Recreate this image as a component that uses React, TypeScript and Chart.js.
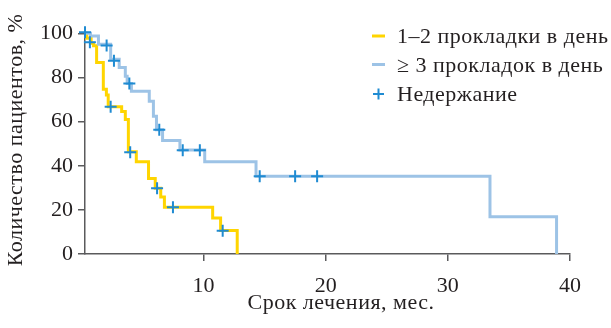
import React, { useEffect, useRef } from "react";
import { Chart, registerables } from "chart.js";

Chart.register(...registerables);

const legendLabels = ["1–2 прокладки в день", "≥ 3 прокладок в день", "Недержание"];
const xTitle = "Срок лечения, мес.";
const yTitle = "Количество пациентов, %";
const xTicks = [10, 20, 30, 40];
const yTicks = [0, 20, 40, 60, 80, 100];

// 1–2 pads/day: event times (months) and survival (%) after each step
const yellowTimes = [0.3, 0.45, 0.8, 1.0, 1.25, 1.8, 2.05, 2.2, 3.3, 3.6, 3.85, 4.5, 5.5, 6.05, 6.5, 6.8, 10.75, 11.4, 12.76];
const yellowValues = [100, 97.8, 95.5, 94.4, 86.8, 74.6, 72, 66.7, 64.6, 61, 46.3, 41.8, 34.2, 29.8, 25.8, 21.2, 16.3, 10.7, 0];

// >=3 pads/day
const blueTimes = [0.3, 0.75, 1.4, 2.4, 3.1, 3.6, 3.75, 4.1, 5.56, 5.9, 6.15, 6.65, 8.07, 10.1, 14.3, 33.45, 38.9];
const blueValues = [100, 98.8, 95, 88.2, 84.5, 80.5, 77.3, 73.8, 69.2, 62.4, 56.3, 51.4, 47.1, 41.8, 35.2, 16.9, 0];

// censored marks (Недержание)
const censorTimes = [0.3, 0.7, 2.07, 2.4, 2.67, 3.93, 4.0, 6.2, 6.38, 7.5, 8.3, 9.7, 11.57, 14.6, 17.5, 19.3];
const censorValues = [100.5, 96, 94.5, 66.7, 87.6, 77.3, 46.1, 29.8, 56.3, 21.2, 47, 47, 10.5, 35.2, 35.2, 35.2];

const YELLOW = "#ffd500";
const BLUE = "#9dc3e6";
const MARK = "#1f8bd2";
const TEXT = "#231f20";
const AXIS = "#5a5a5c";
const FONT = '"Liberation Serif", "Times New Roman", serif';

const toPoints = (xs: number[], ys: number[]) => xs.map((x, i) => ({ x, y: ys[i] }));

const overlay = {
  id: "overlay",
  afterDraw(chart: any) {
    const ctx = chart.ctx as any;
    ctx.save();
    ctx.font = `22px ${FONT}`;
    ctx.letterSpacing = "0.5px";
    ctx.fillStyle = TEXT;
    ctx.textAlign = "left";
    ctx.textBaseline = "alphabetic";
    // legend
    const lx = 372;
    const tx = 397;
    ctx.lineWidth = 3;
    ctx.strokeStyle = YELLOW;
    ctx.beginPath();
    ctx.moveTo(lx, 36);
    ctx.lineTo(lx + 13, 36);
    ctx.stroke();
    ctx.fillText(legendLabels[0], tx, 43);
    ctx.strokeStyle = BLUE;
    ctx.beginPath();
    ctx.moveTo(lx, 64.5);
    ctx.lineTo(lx + 13, 64.5);
    ctx.stroke();
    ctx.fillText(legendLabels[1], tx, 72);
    ctx.strokeStyle = MARK;
    ctx.lineWidth = 2;
    ctx.beginPath();
    ctx.moveTo(lx + 1, 94);
    ctx.lineTo(lx + 12, 94);
    ctx.moveTo(lx + 6.5, 88.5);
    ctx.lineTo(lx + 6.5, 99.5);
    ctx.stroke();
    ctx.fillText(legendLabels[2], tx, 101);
    // x title
    ctx.textAlign = "center";
    ctx.fillText(xTitle, 341, 309);
    // y title
    ctx.translate(22, 140);
    ctx.rotate(-Math.PI / 2);
    ctx.fillText(yTitle, 0, 0);
    ctx.restore();
  },
};

export default function App() {
  const ref = useRef<HTMLCanvasElement>(null);
  useEffect(() => {
    document.body.style.margin = "0";
    const canvas = ref.current!;
    const chart = new Chart(canvas, {
      type: "line",
      data: {
        datasets: [
          {
            label: legendLabels[2],
            data: toPoints(censorTimes, censorValues),
            showLine: false,
            pointStyle: "cross",
            pointRadius: 6,
            pointBorderWidth: 2,
            pointBorderColor: MARK,
            pointBackgroundColor: MARK,
            borderColor: MARK,
            clip: false,
          } as any,
          {
            label: legendLabels[1],
            data: toPoints(blueTimes, blueValues),
            stepped: "before",
            borderColor: BLUE,
            borderWidth: 3,
            pointRadius: 0,
            fill: false,
            clip: false,
          } as any,
          {
            label: legendLabels[0],
            data: toPoints(yellowTimes, yellowValues),
            stepped: "before",
            borderColor: YELLOW,
            borderWidth: 3,
            pointRadius: 0,
            fill: false,
            clip: false,
          } as any,
        ],
      },
      options: {
        animation: false,
        responsive: false,
        layout: { padding: { top: 30, right: 41, left: 0, bottom: 0 } },
        plugins: { legend: { display: false }, tooltip: { enabled: false }, title: { display: false } },
        scales: {
          x: {
            type: "linear",
            min: 0.3,
            max: 40,
            afterBuildTicks: (s: any) => {
              s.ticks = xTicks.map((v) => ({ value: v }));
            },
            afterFit: (s: any) => {
              s.height = 74;
            },
            grid: { drawOnChartArea: false, drawTicks: true, tickLength: 7, color: AXIS, lineWidth: 1.5 },
            border: { display: true, color: AXIS, width: 1.5 },
            ticks: { font: { family: FONT, size: 22 }, color: TEXT, padding: 12, maxRotation: 0, autoSkip: false },
          },
          y: {
            type: "linear",
            min: 0,
            max: 101.5,
            afterBuildTicks: (s: any) => {
              s.ticks = yTicks.map((v) => ({ value: v }));
            },
            afterFit: (s: any) => {
              s.width = 85;
            },
            grid: { drawOnChartArea: false, drawTicks: true, tickLength: 7, color: AXIS, lineWidth: 1.5 },
            border: { display: true, color: AXIS, width: 1.5 },
            ticks: { font: { family: FONT, size: 22 }, color: TEXT, padding: 5, autoSkip: false },
          },
        },
      } as any,
      plugins: [overlay],
    });
    return () => chart.destroy();
  }, []);
  return (
    <div style={{ position: "absolute", left: 0, top: 0, width: 611, height: 328 }}>
      <canvas ref={ref} width={611} height={328} style={{ display: "block", width: 611, height: 328 }} />
    </div>
  );
}
